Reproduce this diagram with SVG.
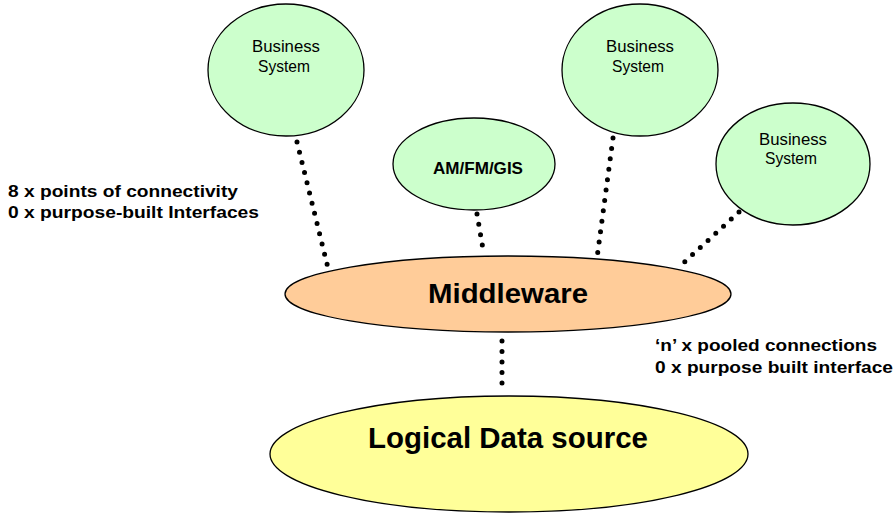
<svg xmlns="http://www.w3.org/2000/svg" width="896" height="514" viewBox="0 0 896 514">
  <style>
    .sys { fill: #CCFFCC; stroke: #000; stroke-width: 1.3; }
    .mid { fill: #FFCC99; stroke: #000; stroke-width: 1.3; }
    .src { fill: #FFFF99; stroke: #000; stroke-width: 1.3; }
    .lbl { font-family: "Liberation Sans", Arial, sans-serif; fill: #000; text-anchor: middle; }
    .biz { font-size: 17px; }
    .note { font-family: "Liberation Sans", Arial, sans-serif; font-weight: bold; font-size: 17px; fill: #000; }
    .dots { stroke: #000; stroke-width: 5; stroke-linecap: round; stroke-dasharray: 0 10.5; fill: none; }
  </style>
  <rect width="896" height="514" fill="#fff"/>

  <g id="connectors">
    <line class="dots" x1="297" y1="142" x2="328" y2="268"/>
    <line class="dots" x1="477" y1="214" x2="484" y2="255"/>
    <line class="dots" x1="613" y1="138" x2="597" y2="258"/>
    <line class="dots" x1="739" y1="212" x2="679" y2="267"/>
    <line class="dots" x1="502" y1="341" x2="502" y2="391"/>
  </g>

  <g id="business-system-1">
    <ellipse class="sys" cx="286" cy="70" rx="78" ry="66"/>
    <text class="lbl biz" x="286" y="52" textLength="68" lengthAdjust="spacingAndGlyphs">Business</text>
    <text class="lbl biz" x="284" y="72" textLength="52" lengthAdjust="spacingAndGlyphs">System</text>
  </g>

  <g id="amfmgis">
    <ellipse class="sys" cx="474" cy="164" rx="81" ry="46"/>
    <text class="lbl" font-size="17" font-weight="bold" x="478" y="174" textLength="90" lengthAdjust="spacingAndGlyphs">AM/FM/GIS</text>
  </g>

  <g id="business-system-2">
    <ellipse class="sys" cx="640" cy="70" rx="78" ry="66"/>
    <text class="lbl biz" x="640" y="52" textLength="68" lengthAdjust="spacingAndGlyphs">Business</text>
    <text class="lbl biz" x="638" y="72" textLength="52" lengthAdjust="spacingAndGlyphs">System</text>
  </g>

  <g id="business-system-3">
    <ellipse class="sys" cx="793" cy="164" rx="77" ry="61"/>
    <text class="lbl biz" x="793" y="145" textLength="68" lengthAdjust="spacingAndGlyphs">Business</text>
    <text class="lbl biz" x="791" y="164" textLength="52" lengthAdjust="spacingAndGlyphs">System</text>
  </g>

  <g id="middleware">
    <ellipse class="mid" cx="508" cy="294" rx="223" ry="38"/>
    <text class="lbl" font-size="28" font-weight="bold" x="508" y="303" textLength="160" lengthAdjust="spacingAndGlyphs">Middleware</text>
  </g>

  <g id="logical-data-source">
    <ellipse class="src" cx="509" cy="454" rx="239" ry="58"/>
    <text class="lbl" font-size="29" font-weight="bold" x="508" y="448" textLength="280" lengthAdjust="spacingAndGlyphs">Logical Data source</text>
  </g>

  <g id="notes">
    <text class="note" x="8" y="197" textLength="230" lengthAdjust="spacingAndGlyphs">8 x points of connectivity</text>
    <text class="note" x="8" y="218" textLength="251" lengthAdjust="spacingAndGlyphs">0 x purpose-built Interfaces</text>
    <text class="note" x="655" y="351" textLength="222" lengthAdjust="spacingAndGlyphs">‘n’ x pooled connections</text>
    <text class="note" x="655" y="373" textLength="238" lengthAdjust="spacingAndGlyphs">0 x purpose built interface</text>
  </g>
</svg>
